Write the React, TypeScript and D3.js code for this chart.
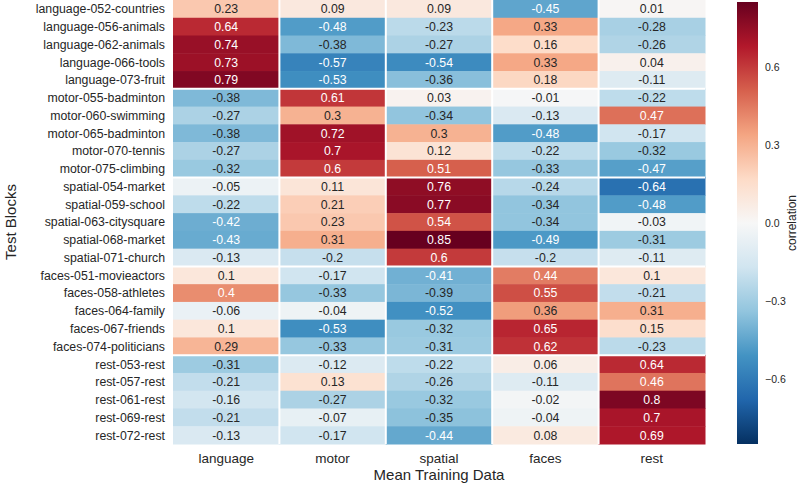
import React from "react";
import * as d3 from "d3";

const rowLabels = [
  "language-052-countries", "language-056-animals", "language-062-animals", "language-066-tools", "language-073-fruit",
  "motor-055-badminton", "motor-060-swimming", "motor-065-badminton", "motor-070-tennis", "motor-075-climbing",
  "spatial-054-market", "spatial-059-school", "spatial-063-citysquare", "spatial-068-market", "spatial-071-church",
  "faces-051-movieactors", "faces-058-athletes", "faces-064-family", "faces-067-friends", "faces-074-politicians",
  "rest-053-rest", "rest-057-rest", "rest-061-rest", "rest-069-rest", "rest-072-rest",
];
const colLabels = ["language", "motor", "spatial", "faces", "rest"];

const language = [0.23, 0.64, 0.74, 0.73, 0.79, -0.38, -0.27, -0.38, -0.27, -0.32, -0.05, -0.22, -0.42, -0.43, -0.13, 0.1, 0.4, -0.06, 0.1, 0.29, -0.31, -0.21, -0.16, -0.21, -0.13];
const motor = [0.09, -0.48, -0.38, -0.57, -0.53, 0.61, 0.3, 0.72, 0.7, 0.6, 0.11, 0.21, 0.23, 0.31, -0.2, -0.17, -0.33, -0.04, -0.53, -0.33, -0.12, 0.13, -0.27, -0.07, -0.17];
const spatial = [0.09, -0.23, -0.27, -0.54, -0.36, 0.03, -0.34, 0.3, 0.12, 0.51, 0.76, 0.77, 0.54, 0.85, 0.6, -0.41, -0.39, -0.52, -0.32, -0.31, -0.22, -0.26, -0.32, -0.35, -0.44];
const faces = [-0.45, 0.33, 0.16, 0.33, 0.18, -0.01, -0.13, -0.48, -0.22, -0.33, -0.24, -0.34, -0.34, -0.49, -0.2, 0.44, 0.55, 0.36, 0.65, 0.62, 0.06, -0.11, -0.02, -0.04, 0.08];
const rest = [0.01, -0.28, -0.26, 0.04, -0.11, -0.22, 0.47, -0.17, -0.32, -0.47, -0.64, -0.48, -0.03, -0.31, -0.11, 0.1, -0.21, 0.31, 0.15, -0.23, 0.64, 0.46, 0.8, 0.7, 0.69];
const series = [language, motor, spatial, faces, rest];

const cbarTicks = [-0.6, -0.3, 0.0, 0.3, 0.6];
const vmin = -0.85;
const vmax = 0.85;

const W = 800, H = 484;
const left = 173, right = 705, top = 0, bottom = 444;
const cbX = 737, cbW = 21, cbTop = 2, cbBottom = 444;
const FONT = "'Liberation Sans', Arial, sans-serif";
const DARK = "#262626";

const scheme = [...d3.schemeRdBu[11]].reverse();
const color = d3
  .scaleLinear<string>()
  .domain(d3.range(11).map((i) => vmin + (i * (vmax - vmin)) / 10))
  .range(scheme)
  .interpolate(d3.interpolateRgb)
  .clamp(true);

function luminance(c: string) {
  const rgb = d3.rgb(c);
  const lin = [rgb.r, rgb.g, rgb.b].map((v) => {
    const x = v / 255;
    return x <= 0.03928 ? x / 12.92 : Math.pow((x + 0.055) / 1.055, 2.4);
  });
  return 0.2126 * lin[0] + 0.7152 * lin[1] + 0.0722 * lin[2];
}

export default function App() {
  const x = d3.scaleBand<string>().domain(colLabels).range([left, right]);
  const y = d3.scaleBand<string>().domain(rowLabels).range([top, bottom]);
  const cb = d3.scaleLinear().domain([vmin, vmax]).range([cbBottom, cbTop]);

  const groupBreaks: number[] = [];
  rowLabels.forEach((r, i) => {
    if (i > 0 && r.split("-")[0] !== rowLabels[i - 1].split("-")[0]) groupBreaks.push(i);
  });

  const stops = d3.range(11).map((i) => vmin + (i * (vmax - vmin)) / 10);

  return (
    <div style={{ position: "absolute", left: 0, top: 0 }}>
      <svg width={W} height={H} style={{ display: "block", background: "#fff" }} fontFamily={FONT}>
        <defs>
          <linearGradient id="cbgrad" x1="0" y1="1" x2="0" y2="0">
            {stops.map((s, i) => (
              <stop key={i} offset={`${(i / 10) * 100}%`} stopColor={color(s)} />
            ))}
          </linearGradient>
        </defs>
        {series.map((vals, ci) =>
          vals.map((v, ri) => {
            const c = color(v);
            const xx = x(colLabels[ci])!;
            const yy = y(rowLabels[ri])!;
            return (
              <g key={`${ci}-${ri}`}>
                <rect x={xx} y={yy} width={x.bandwidth() + 0.5} height={y.bandwidth() + 0.5} fill={c} />
                <text
                  x={xx + x.bandwidth() / 2}
                  y={yy + y.bandwidth() / 2}
                  dy="0.36em"
                  textAnchor="middle"
                  fontSize={12.3}
                  fill={luminance(c) > 0.408 ? DARK : "#ffffff"}
                >
                  {String(v)}
                </text>
              </g>
            );
          })
        )}
        {colLabels.slice(1).map((c) => (
          <line key={c} x1={x(c)!} x2={x(c)!} y1={top} y2={bottom} stroke="#fff" strokeWidth={2} />
        ))}
        {groupBreaks.map((i) => (
          <line key={i} x1={left} x2={right} y1={y(rowLabels[i])!} y2={y(rowLabels[i])!} stroke="#fff" strokeWidth={2} />
        ))}
        {rowLabels.map((r) => (
          <text key={r} x={left - 8} y={y(r)! + y.bandwidth() / 2} dy="0.36em" textAnchor="end" fontSize={12.3} fill={DARK}>
            {r}
          </text>
        ))}
        {colLabels.map((c) => (
          <text key={c} x={x(c)! + x.bandwidth() / 2} y={bottom + 14} dy="0.36em" textAnchor="middle" fontSize={13.5} fill={DARK}>
            {c}
          </text>
        ))}
        <text x={(left + right) / 2} y={bottom + 31} dy="0.36em" textAnchor="middle" fontSize={15} fill={DARK}>
          Mean Training Data
        </text>
        <text transform={`translate(11,${(top + bottom) / 2}) rotate(-90)`} dy="0.36em" textAnchor="middle" fontSize={15} fill={DARK}>
          Test Blocks
        </text>
        <rect x={cbX} y={cbTop} width={cbW} height={cbBottom - cbTop} fill="url(#cbgrad)" />
        {cbarTicks.map((t) => (
          <text key={t} x={cbX + cbW + 7} y={cb(t)} dy="0.36em" fontSize={10.5} fill={DARK}>
            {d3.format(".1f")(t)}
          </text>
        ))}
        <text transform={`translate(792,${cb(0)}) rotate(-90)`} dy="0.36em" textAnchor="middle" fontSize={12} fill={DARK}>
          correlation
        </text>
      </svg>
    </div>
  );
}
